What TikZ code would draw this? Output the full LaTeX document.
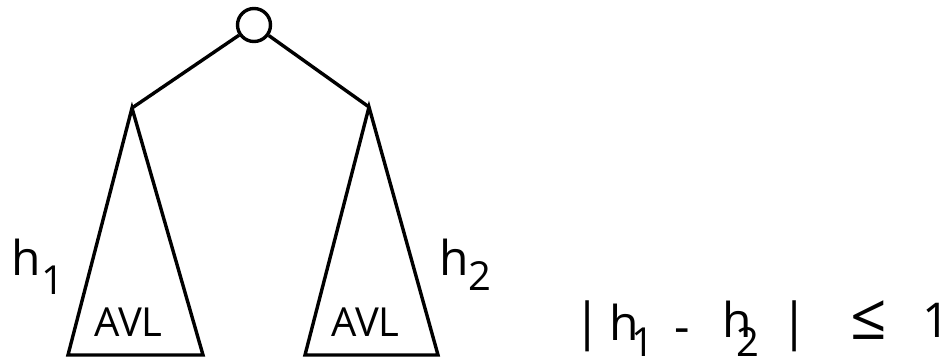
\documentclass[tikz,border=0pt]{standalone}
\usepackage{fontspec}
\setmainfont{Open Sans}
\usepackage{tikz}
\usetikzlibrary{positioning}

\begin{document}
\begin{tikzpicture}[
  x=1pt, y=-1pt, line width=3.4pt,
  vertex/.style={draw, circle, minimum size=33pt, inner sep=0pt},
  lbl/.style={inner sep=0pt, anchor=base, font=\fontsize{48}{50}\selectfont},
  sub/.style={inner sep=0pt, anchor=base, font=\fontsize{40}{44}\selectfont},
  tree/.style={inner sep=0pt, anchor=base, font=\fontsize{40}{44}\selectfont},
  bar/.style={inner sep=0pt, anchor=center, font=\fontsize{51}{54}\selectfont},
]
  \useasboundingbox (0,0) rectangle (952,361);
  % root and the two subtrees
  \node[vertex] (root) at (254,25) {};
  \coordinate (ltop) at (132,108);
  \coordinate (lbl1) at (68,355);
  \coordinate (lbr1) at (203,355);
  \coordinate (rtop) at (369,107);
  \coordinate (lbl2) at (305,355);
  \coordinate (lbr2) at (438,355);
  \draw (root) -- (ltop);
  \draw (root) -- (rtop);
  \draw[line join=miter] (ltop) -- (lbl1) -- (lbr1) -- cycle;
  \draw[line join=miter] (rtop) -- (lbl2) -- (lbr2) -- cycle;
  \node[tree] (avlL) at (128.5,336) {AVL};
  \node[tree] (avlR) at (365.5,336) {AVL};
  % heights
  \node[lbl] (hL) at (26,275) {h};
  \node[sub] (hLsub) at (52.5,294) {1};
  \node[lbl] (hR) at (454,275) {h};
  \node[sub] (hRsub) at (480,290) {2};
  % the condition
  \node[bar] (barA) at (587.5,326) {|};
  \node[lbl] (fh1) at (624,340) {h};
  \node[sub] (fs1) at (642.5,356) {1};
  \node[lbl] (minus) at (682,343) {-};
  \node[lbl] (fh2) at (737.5,337) {h};
  \node[sub] (fs2) at (747.5,356) {2};
  \node[bar] (barB) at (795,326) {|};
  \node[lbl, font=\fontsize{64}{66}\selectfont] (leq) at (868.5,339) {≤};
  \node[lbl] (one) at (936,337) {1};
\end{tikzpicture}
\end{document}
